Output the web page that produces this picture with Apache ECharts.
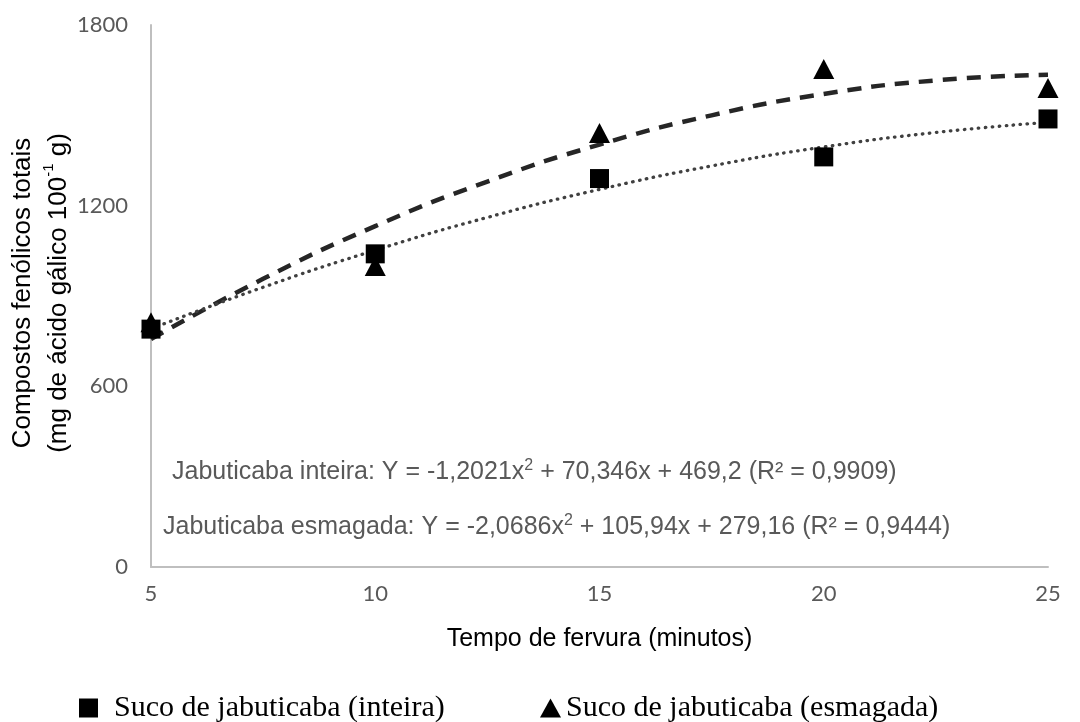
<!DOCTYPE html>
<html>
<head>
<meta charset="utf-8">
<script src="https://cdn.jsdelivr.net/npm/echarts@6/dist/echarts.min.js"></script>
<style>
  html, body { margin: 0; padding: 0; background: #fff; }
  #chart { width: 1080px; height: 722px; }
</style>
</head>
<body>
<div id="chart"></div>
<script>
// pontos medidos (minutos x mg de ácido gálico)
const minutes = [5, 10, 15, 20, 25]
const sucoInteira = [790, 1040, 1290, 1362, 1488]
const sucoEsmagada = [813, 1000, 1441, 1654, 1591]

// linhas de tendência
const trendMinutes = [5, 7.5, 10, 12.5, 15, 17.5, 20, 22.5, 25]
const trendInteira = [791, 929, 1052, 1161, 1254, 1332, 1395, 1443, 1477]
const trendEsmagada = [757, 957, 1132, 1280, 1403, 1500, 1571, 1616, 1635]

const eqInteira = 'Jabuticaba inteira: Y = -1,2021x{sup|2} + 70,346x + 469,2 (R² = 0,9909)'
const eqEsmagada = 'Jabuticaba esmagada: Y = -2,0686x{sup|2} + 105,94x + 279,16 (R² = 0,9444)'

const pairs = (xs, ys) => xs.map((x, i) => [x, ys[i]])

const chart = echarts.init(document.getElementById('chart'))

const gray = '#595959'
const sans = '"Liberation Sans", Arial, sans-serif'
const serif = '"Liberation Serif", "Times New Roman", serif'

chart.setOption({
  animation: false,
  grid: { left: 151, right: 32, top: 25, bottom: 155 },
  xAxis: {
    type: 'value',
    min: 5,
    max: 25,
    interval: 5,
    name: 'Tempo de fervura (minutos)',
    nameLocation: 'middle',
    nameGap: 60,
    nameTextStyle: { color: '#000', fontSize: 25, fontFamily: sans },
    axisLine: { show: true, lineStyle: { color: '#bfbfbf', width: 2 } },
    axisTick: { show: false },
    splitLine: { show: false },
    axisLabel: { color: gray, fontSize: 22, fontFamily: 'Lato', margin: 16 }
  },
  yAxis: {
    type: 'value',
    min: 0,
    max: 1800,
    interval: 600,
    axisLine: { show: true, lineStyle: { color: '#bfbfbf', width: 2 } },
    axisTick: { show: false },
    splitLine: { show: false },
    axisLabel: { color: gray, fontSize: 22, fontFamily: 'Lato', margin: 23, formatter: v => String(v) }
  },
  legend: [
    {
      left: 79,
      top: 693,
      padding: 0,
      itemWidth: 19,
      itemHeight: 19,
      data: [{ name: 'Suco de jabuticaba (inteira)', icon: 'rect' }],
      itemStyle: { opacity: 1 },
      textStyle: { color: '#000', fontSize: 30, fontFamily: serif, padding: [0, 0, 0, 11] }
    },
    {
      left: 540,
      top: 693,
      padding: 0,
      itemWidth: 21,
      itemHeight: 19,
      data: [{ name: 'Suco de jabuticaba (esmagada)', icon: 'triangle' }],
      itemStyle: { opacity: 1 },
      textStyle: { color: '#000', fontSize: 30, fontFamily: serif }
    }
  ],
  graphic: [
    {
      type: 'text',
      x: 41,
      y: 293,
      rotation: Math.PI / 2,
      style: {
        text: 'Compostos fenólicos totais\n(mg de ácido gálico 100{sup|-1} g)',
        fill: '#000',
        font: '26px "Liberation Sans", Arial, sans-serif',
        lineHeight: 36,
        align: 'center',
        verticalAlign: 'middle',
        rich: {
          sup: { fontSize: 15, verticalAlign: 'top', fill: '#000', fontFamily: sans, lineHeight: 36, padding: [0, 0, 14, 0] }
        }
      }
    },
    {
      type: 'text',
      left: 172,
      top: 458,
      style: {
        text: eqInteira,
        fill: gray,
        font: '25px "Liberation Sans", Arial, sans-serif',
        rich: {
          sup: { fontSize: 16, fill: gray, fontFamily: sans, padding: [0, 0, 12, 0] }
        }
      }
    },
    {
      type: 'text',
      left: 163,
      top: 513,
      style: {
        text: eqEsmagada,
        fill: gray,
        font: '25px "Liberation Sans", Arial, sans-serif',
        rich: {
          sup: { fontSize: 16, fill: gray, fontFamily: sans, padding: [0, 0, 12, 0] }
        }
      }
    }
  ],
  series: [
    {
      name: 'tendência esmagada',
      type: 'line',
      smooth: 0.5,
      showSymbol: false,
      z: 2,
      lineStyle: { color: '#262626', width: 4.5, type: [14, 10] },
      data: pairs(trendMinutes, trendEsmagada)
    },
    {
      name: 'tendência inteira',
      type: 'line',
      smooth: 0.5,
      showSymbol: false,
      z: 2,
      lineStyle: { color: '#404040', width: 3.3, type: [0.5, 6.5], cap: 'round' },
      data: pairs(trendMinutes, trendInteira)
    },
    {
      name: 'Suco de jabuticaba (esmagada)',
      type: 'scatter',
      symbol: 'triangle',
      symbolSize: [21, 20],
      z: 3,
      itemStyle: { color: '#000', opacity: 1 },
      data: pairs(minutes, sucoEsmagada)
    },
    {
      name: 'Suco de jabuticaba (inteira)',
      type: 'scatter',
      symbol: 'rect',
      symbolSize: 19,
      z: 4,
      itemStyle: { color: '#000', opacity: 1 },
      data: pairs(minutes, sucoInteira)
    }
  ]
})
</script>
</body>
</html>
